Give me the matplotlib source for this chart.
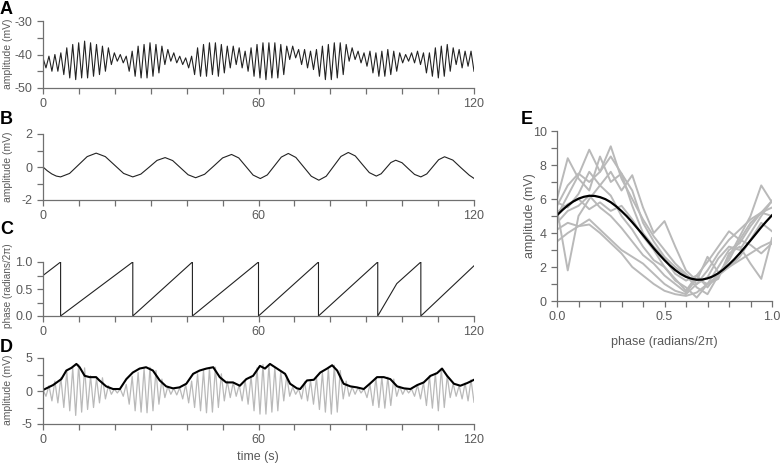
import matplotlib
matplotlib.use("Agg")
import matplotlib.pyplot as plt
import numpy as np

plt.rcParams["font.family"] = ["Liberation Sans", "DejaVu Sans"]
plt.rcParams["axes.unicode_minus"] = False

# ---- A: raw recording, one trough and one peak per cycle (mV) ----
a_start, a_end = -41.0, -45.0
a_peaks = [-40.5, -40, -39.5,
           -38, -37, -36.5, -36, -36.5, -37, -37.5,
           -38, -39.5, -40, -40.5,
           -39, -37.5, -37, -36.5, -37, -37.5,
           -38.5, -39.5, -40.5, -41, -40.5,
           -38, -37, -36.5, -36.5, -37, -37.5,
           -37.5, -38, -39, -38,
           -37, -36.5, -36.5, -36.5, -37, -37.5,
           -37.5, -38.5, -38.5, -39, -38.5,
           -37.5, -37, -36.5, -36.5, -37,
           -38, -39, -39.5, -39,
           -39.5, -39, -38.5, -39, -39.5,
           -40, -39.5, -39, -39.5,
           -39.5, -38, -37.5, -37, -38,
           -38.5, -39, -39]
a_troughs = [-44, -45, -45,
             -46, -47, -47.5, -47, -47, -46.5, -46,
             -45, -43, -42, -42.5,
             -45, -46.5, -47, -47, -46.5, -45.5,
             -43, -42, -42.5, -43, -44,
             -46, -46.5, -46.5, -46, -46.5, -45.5,
             -44, -43, -44, -45,
             -46.5, -47, -47.5, -47, -47, -46,
             -41.5, -41, -43, -44, -44.5,
             -46.5, -47.5, -47.5, -47, -46,
             -42, -41.5, -42.5, -43.5,
             -45.5, -46.5, -46.5, -46, -45,
             -42.5, -42, -42.5, -43,
             -45.5, -46.5, -47, -46.5, -45,
             -43, -44, -43.5]

# ---- B: slow wave (mV) ----
b_time = [0, 1.2, 2.45, 3.7, 4.9, 7.4, 9.85, 12.3, 14.8, 17.35, 19.9, 22.45,
          25, 27.25, 29.5, 31.75, 34, 36.1, 38.25, 40.4, 42.5, 45, 47.5, 50,
          52.5, 54.5, 56.5, 58.5, 60.5, 62.45, 64.4, 66.35, 68.3, 70.4, 72.55,
          74.7, 76.8, 78.85, 80.9, 82.95, 85, 86.95, 88.9, 90.85, 92.8, 94.15,
          95.5, 96.85, 98.2, 99.95, 101.7, 103.45, 105.2, 106.85, 108.5,
          110.15, 111.8, 114.1, 116.4, 118.7, 120]
b_amp = [0, -0.23, -0.42, -0.55, -0.6, -0.39, 0.12, 0.63, 0.84, 0.63, 0.12,
         -0.39, -0.6, -0.43, -0.02, 0.4, 0.57, 0.39, -0.04, -0.47, -0.65,
         -0.44, 0.05, 0.55, 0.76, 0.55, 0.03, -0.49, -0.7, -0.48, 0.06, 0.6,
         0.82, 0.58, 0.01, -0.56, -0.8, -0.56, 0.04, 0.64, 0.88, 0.67, 0.16,
         -0.34, -0.55, -0.41, -0.07, 0.27, 0.41, 0.26, -0.1, -0.45, -0.6,
         -0.42, 0.01, 0.44, 0.62, 0.42, -0.05, -0.5, -0.69]

# ---- C: phase of slow wave (radians/2pi) ----
c_time = [0, 4.9, 4.9, 25.0, 25.0, 41.6, 41.6, 60.0, 60.0, 76.7, 76.7,
          93.2, 93.2, 98.5, 105.2, 105.2, 120]
c_phase = [0.75, 1.0, 0.0, 1.0, 0.0, 1.0, 0.0, 1.0, 0.0, 1.0, 0.0,
           1.0, 0.0, 0.6, 1.0, 0.0, 0.93]

# ---- D: filtered fast signal (gray) and its envelope (black) ----
d_start, d_end = 0.2, -1.7
d_peaks = [0.8, 1.5, 2.0,
           3.0, 3.5, 4.0, 3.5, 2.3, 2.0, 2.0,
           0.8, 0.3, 0.3, 1.0,
           2.2, 2.8, 3.4, 3.6, 3.1, 1.8,
           0.7, 0.4, 0.5, 1.0, 1.5,
           2.6, 3.1, 3.4, 3.6, 2.6, 1.5,
           1.3, 0.9, 1.6, 2.2,
           3.5, 4.0, 4.0, 3.6, 3.0, 2.3,
           0.6, 0.3, 1.4, 1.6, 2.0,
           2.8, 3.4, 3.9, 3.1, 1.5,
           0.6, 0.5, 0.3, 1.0,
           2.0, 2.1, 2.1, 1.8, 0.7,
           0.4, 0.3, 0.9, 1.3,
           2.3, 2.7, 3.4, 2.3, 1.1,
           0.8, 1.2, 1.7]
d_troughs = [-0.8, -1.5, -1.8,
             -2.5, -3.0, -3.7, -3.2, -2.8, -2.5, -1.8,
             -1.2, -0.5, -0.3, -0.8,
             -2.0, -3.0, -3.2, -3.3, -3.0, -2.0,
             -1.0, -0.5, -0.6, -1.2, -1.8,
             -2.5, -3.0, -3.3, -3.2, -2.5, -1.5,
             -1.0, -0.8, -1.5, -2.0,
             -3.0, -3.5, -3.5, -3.2, -3.0, -1.5,
             -0.8, -0.5, -1.2, -1.5, -2.0,
             -2.8, -3.2, -3.5, -3.2, -1.2,
             -0.8, -0.5, -0.3, -1.0,
             -2.2, -2.5, -2.6, -2.2, -0.8,
             -0.5, -0.3, -0.8, -1.2,
             -2.2, -2.6, -3.0, -2.5, -1.0,
             -0.8, -1.2, -1.5]
env_time = [0, 2.8, 5.1, 6.5, 7.9, 9.3, 10.2, 11.6, 13, 14.8,
            15.7, 17.6, 19.5, 21.4, 23.2, 25, 26.9, 28.7, 30.6, 32.5,
            34.3, 36.2, 38, 39.9, 41.8, 43.6, 45.5, 47.4, 49.2, 51,
            52.9, 54.8, 56.6, 58.5, 60.4, 61.8, 63.2, 64.6, 66, 67.4,
            68.8, 70.7, 71.6, 73.5, 75.4, 77.2, 79.1, 80.5, 81.9, 83.7,
            85.6, 87.4, 89.3, 91.2, 93, 94.9, 96.7, 98.6, 100.5, 102.3,
            104.2, 106, 107.9, 109.7, 111.1, 112.5, 114.4, 116.2, 118.1, 120]
env_amp = [0.15, 0.9, 1.8, 3.1, 3.5, 4.1, 3.6, 2.3, 2.1, 2.1,
           1.6, 0.7, 0.3, 0.3, 1.8, 2.8, 3.4, 3.6, 3.1, 1.6,
           0.7, 0.4, 0.55, 1.1, 2.6, 3.1, 3.4, 3.6, 2.1, 1.3,
           1.3, 0.8, 1.8, 2.3, 3.8, 3.4, 4.1, 3.6, 3.1, 2.6,
           1.1, 0.4, 0.3, 1.6, 1.7, 2.8, 3.4, 3.9, 3.1, 1.1,
           0.7, 0.55, 0.3, 1.2, 2.1, 2.1, 1.8, 0.7, 0.4, 0.3,
           0.9, 1.3, 2.3, 2.7, 3.4, 2.3, 1.1, 0.8, 1.2, 1.7]

# ---- E: amplitude vs phase, one gray line per slow-wave cycle ----
e_phase = [0, 0.05, 0.1, 0.15, 0.2, 0.25, 0.3, 0.35, 0.4, 0.45, 0.5,
           0.55, 0.6, 0.65, 0.7, 0.75, 0.8, 0.85, 0.9, 0.95, 1.0]
e_cycles = [
    [5.6, 6.8, 7.5, 7.0, 7.6, 9.1, 7.2, 6.0, 4.8, 3.8, 3.0, 2.2, 1.6, 1.0, 1.4, 2.5, 3.2, 3.0, 4.0, 5.0, 5.9],
    [5.0, 6.2, 7.4, 8.9, 7.6, 8.5, 7.5, 5.6, 4.0, 3.2, 2.5, 1.6, 1.2, 1.5, 0.8, 1.6, 2.4, 3.6, 4.6, 5.2, 5.5],
    [6.0, 8.4, 7.2, 6.5, 8.5, 7.0, 7.5, 6.5, 4.6, 3.5, 2.6, 2.0, 1.5, 0.8, 0.4, 1.5, 2.6, 3.8, 5.0, 6.8, 5.8],
    [5.4, 1.8, 5.0, 6.0, 6.8, 6.2, 5.0, 4.2, 3.2, 2.4, 2.0, 1.3, 0.6, 1.5, 2.3, 3.2, 4.1, 3.6, 3.3, 2.8, 3.4],
    [5.8, 5.5, 6.3, 7.6, 6.8, 7.6, 6.5, 7.4, 5.5, 4.0, 4.7, 3.2, 1.8, 1.2, 2.6, 1.7, 2.0, 2.6, 3.6, 4.6, 4.1],
    [4.2, 4.6, 4.4, 4.8, 4.2, 3.6, 3.0, 2.6, 2.2, 1.6, 1.0, 0.6, 0.4, 1.0, 1.8, 2.8, 3.6, 4.2, 4.8, 5.2, 5.0],
    [3.5, 4.0, 4.4, 4.5, 4.0, 3.4, 2.8, 2.0, 1.5, 1.0, 0.6, 0.4, 0.3, 0.5, 1.0, 1.5, 2.0, 2.4, 2.8, 3.2, 3.5],
    [5.2, 5.7, 6.0, 5.4, 5.8, 5.3, 5.6, 4.8, 3.8, 3.0, 2.0, 1.2, 0.8, 0.2, 1.0, 2.0, 3.0, 3.4, 4.4, 5.2, 5.9],
    [4.6, 5.3, 5.6, 6.2, 5.5, 5.0, 4.3, 3.5, 2.7, 2.2, 1.5, 1.0, 0.5, 1.3, 1.0, 1.3, 2.8, 3.2, 2.2, 1.3, 3.7],
]
fit_phase = [0, 0.025, 0.05, 0.075, 0.1, 0.125, 0.15, 0.175, 0.2, 0.225,
             0.25, 0.275, 0.3, 0.325, 0.35, 0.375, 0.4, 0.425, 0.45, 0.475,
             0.5, 0.525, 0.55, 0.575, 0.6, 0.625, 0.65, 0.675, 0.7, 0.725,
             0.75, 0.775, 0.8, 0.825, 0.85, 0.875, 0.9, 0.925, 0.95, 0.975, 1.0]
fit_amp = [5.04, 5.35, 5.62, 5.85, 6.02, 6.13, 6.19, 6.18, 6.11, 5.99,
           5.81, 5.57, 5.29, 4.98, 4.63, 4.26, 3.88, 3.49, 3.10, 2.74,
           2.40, 2.09, 1.82, 1.59, 1.42, 1.31, 1.25, 1.26, 1.33, 1.45,
           1.63, 1.87, 2.15, 2.46, 2.81, 3.18, 3.56, 3.95, 4.34, 4.70, 5.04]


def cycle_series(start, troughs, peaks, end):
    """interleave per-cycle troughs and peaks into one evenly sampled trace"""
    vals = [start]
    for lo, hi in zip(troughs, peaks):
        vals += [lo, hi]
    vals.append(end)
    return np.linspace(0, 120, len(vals)), np.array(vals)


AXIS_GRAY = "#707070"
TEXT_GRAY = "#5a5a5a"
W, H = 781, 466


def style(ax):
    for side in ("top", "right"):
        ax.spines[side].set_visible(False)
    for side in ("left", "bottom"):
        ax.spines[side].set_color(AXIS_GRAY)
        ax.spines[side].set_linewidth(0.9)
    ax.tick_params(which="both", direction="out", color=AXIS_GRAY, width=0.9,
                   length=4.5, pad=3, labelsize=9, labelcolor=TEXT_GRAY)


def time_axis(ax):
    ax.set_xlim(0, 120)
    ax.set_xticks([0, 60, 120])
    ax.set_xticks(np.arange(0, 121, 10), minor=True)


def rect(x0, x1, ytop, ybot):
    return [x0 / W, 1 - ybot / H, (x1 - x0) / W, (ybot - ytop) / H]


def label(text, x, y, rotation=0, size=7.5):
    fig.text(x / W, 1 - y / H, text, rotation=rotation, fontsize=size,
             color=TEXT_GRAY, ha="center", va="center")


fig = plt.figure(figsize=(W / 100, H / 100), dpi=100)

# A
ax_a = fig.add_axes(rect(43, 474, 21, 88))
t_a, v_a = cycle_series(a_start, a_troughs, a_peaks, a_end)
ax_a.plot(t_a, v_a, color="#222222", lw=0.8)
ax_a.set_ylim(-50, -30)
ax_a.set_yticks([-50, -40, -30])
ax_a.set_yticks([-45, -35], minor=True)
time_axis(ax_a)
style(ax_a)
label("amplitude (mV)", 8, 54, rotation=90)

# B
ax_b = fig.add_axes(rect(43, 474, 134, 200))
ax_b.plot(b_time, b_amp, color="#222222", lw=0.8)
ax_b.set_ylim(-2, 2)
ax_b.set_yticks([-2, 0, 2])
ax_b.set_yticks([-1, 1], minor=True)
time_axis(ax_b)
style(ax_b)
label("amplitude (mV)", 8, 167, rotation=90)

# C
ax_c = fig.add_axes(rect(43, 474, 262, 316))
ax_c.plot(c_time, c_phase, color="#222222", lw=0.8)
ax_c.set_ylim(0, 1)
ax_c.set_yticks([0, 0.5, 1.0])
ax_c.set_yticks([0.25, 0.75], minor=True)
ax_c.yaxis.set_major_formatter(plt.FormatStrFormatter("%.1f"))
time_axis(ax_c)
style(ax_c)
label("phase (radians/2π)", 8, 286, rotation=90, size=7.2)

# D
ax_d = fig.add_axes(rect(43, 474, 358, 424))
t_d, v_d = cycle_series(d_start, d_troughs, d_peaks, d_end)
ax_d.plot(t_d, v_d, color="#b9b9b9", lw=0.9)
ax_d.plot(env_time, env_amp, color="black", lw=1.5)
ax_d.set_ylim(-5, 5)
ax_d.set_yticks([-5, 0, 5])
ax_d.set_yticks([-2.5, 2.5], minor=True)
time_axis(ax_d)
style(ax_d)
label("amplitude (mV)", 8, 390, rotation=90)
label("time (s)", 258, 457, size=9)

# E
ax_e = fig.add_axes(rect(557, 772, 131, 301))
for cyc in e_cycles:
    ax_e.plot(e_phase, cyc, color="#b9b9b9", lw=1.4)
ax_e.plot(fit_phase, fit_amp, color="black", lw=1.6)
ax_e.set_xlim(0, 1)
ax_e.set_ylim(0, 10)
ax_e.set_xticks([0, 0.5, 1.0])
ax_e.set_xticks(np.arange(0, 1.01, 0.1), minor=True)
ax_e.xaxis.set_major_formatter(plt.FormatStrFormatter("%.1f"))
ax_e.set_yticks(np.arange(0, 11, 2))
ax_e.set_yticks(np.arange(1, 10, 2), minor=True)
style(ax_e)
label("amplitude (mV)", 530, 216, rotation=90, size=9)
label("phase (radians/2π)", 664, 342, size=9)

for letter, x, y in [("A", 0, 9), ("B", 0, 120), ("C", 0, 229), ("D", 0, 347), ("E", 521, 119)]:
    fig.text(x / W, 1 - y / H, letter, fontsize=13, fontweight="bold",
             va="center", ha="left", color="black")

fig.savefig("out.png", dpi=100)
